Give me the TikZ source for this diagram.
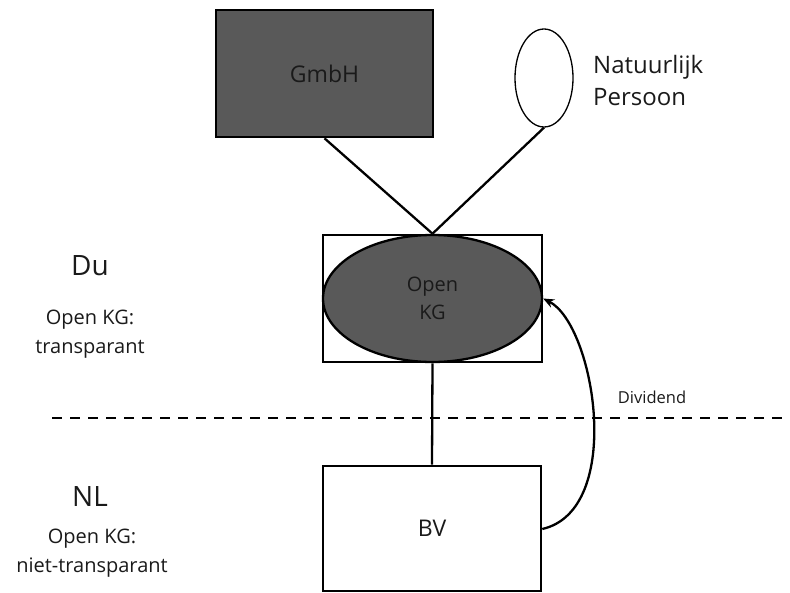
\documentclass[tikz,border=0pt]{standalone}
\usepackage{fontspec}
\setmainfont{Open Sans}
\usetikzlibrary{arrows.meta,shapes.geometric}
\definecolor{entity}{HTML}{595959}
\definecolor{ink}{HTML}{1A1A1A}
\newcommand{\fs}[2]{\fontsize{#1}{#2}\selectfont}
\begin{document}
\begin{tikzpicture}[x=1pt,y=-1pt,
  box/.style={draw=black,line width=2.6pt,rectangle,inner sep=0pt},
  dark/.style={fill=entity},
  link/.style={draw=black,line width=2.3pt},
  label/.style={align=center,inner sep=0pt,text=ink}]
  \useasboundingbox (0,0) rectangle (790,592);

  % entities
  \node[box,dark,minimum width=217pt,minimum height=127pt,label,font=\fs{23}{28}] (gmbh) at (324.5,73.5) {GmbH};
  \node[draw=black,line width=1.3pt,ellipse,inner sep=0pt,minimum width=58pt,minimum height=98pt] (np) at (544,78) {};
  \node[label,anchor=west,align=left,font=\fs{24}{32}] (nplabel) at (593,80) {Natuurlijk\\Persoon};

  \node[box,minimum width=219pt,minimum height=127pt] (kgbox) at (432.5,298.5) {};
  \node[draw=black,line width=2.3pt,ellipse,dark,inner sep=0pt,minimum width=219pt,minimum height=127pt,
        label,font=\fs{20}{28}] (kg) at (432.5,298.5) {Open\\KG};

  \node[box,minimum width=218pt,minimum height=125pt,label,font=\fs{23}{28}] (bv) at (432,528.5) {BV};

  % ownership lines
  \draw[link] (gmbh.south) -- (kgbox.north);
  \draw[link] (np.south) -- (kgbox.north);
  \draw[link] (kgbox.south) -- (bv.north);

  % border between jurisdictions
  \coordinate (borderL) at (52,418);
  \coordinate (borderR) at (790,418);
  \draw[line width=2.8pt,dash pattern=on 10pt off 8pt] (borderL) -- (borderR);

  % dividend flow
  \draw[line width=2.3pt,-{Stealth[length=11pt,width=9pt]}]
    (bv.east |- 0,529) .. controls (625,510) and (595,325) .. (kg.east);
  \node[label,font=\fs{16.5}{20}] (div) at (652,397) {Dividend};

  % jurisdiction labels
  \node[label,font=\fs{28}{32}] (du) at (90,265.5) {Du};
  \node[label,font=\fs{20}{29}] (dutext) at (90,334) {Open KG:\\transparant};
  \node[label,font=\fs{28}{32}] (nl) at (90,496) {NL};
  \node[label,font=\fs{20}{29}] (nltext) at (92,553.5) {Open KG:\\niet-transparant};
\end{tikzpicture}
\end{document}
